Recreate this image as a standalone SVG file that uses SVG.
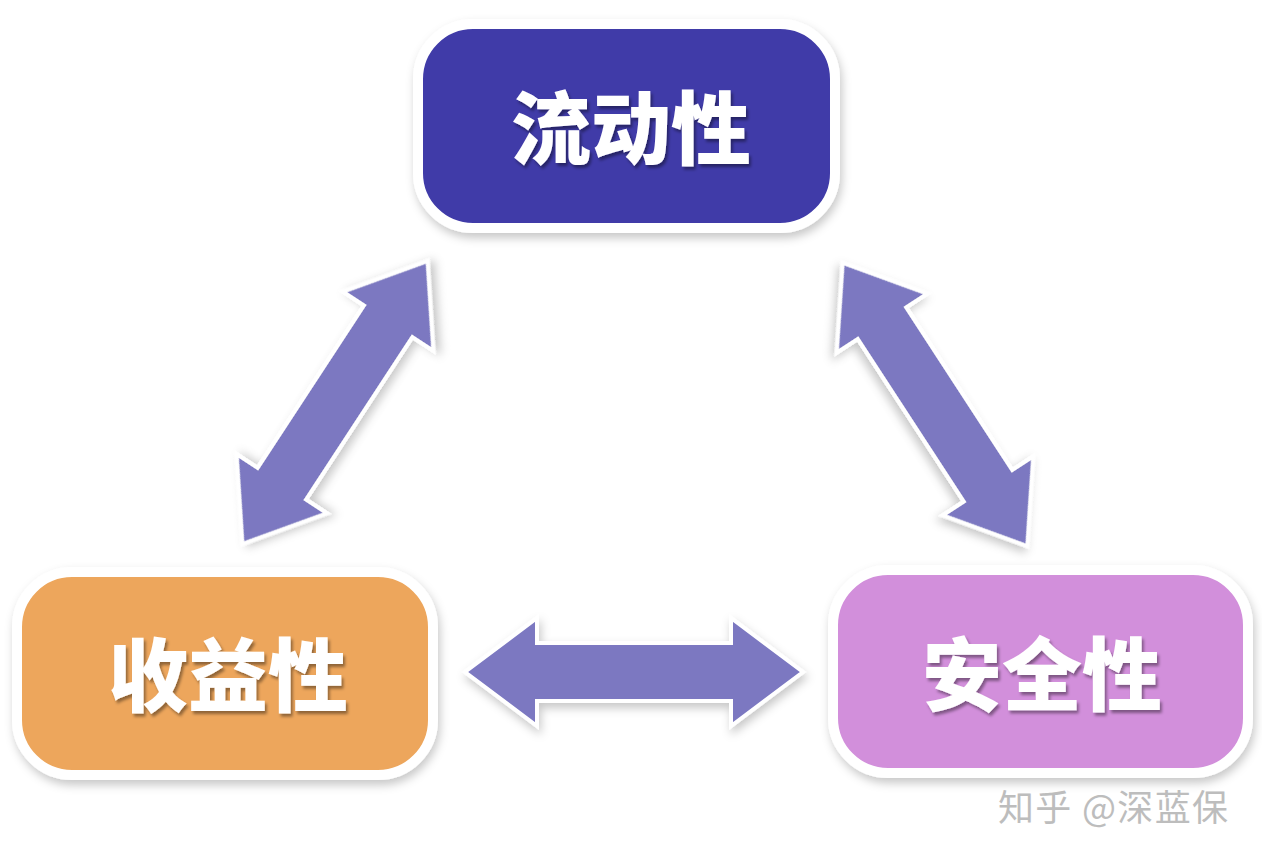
<svg xmlns="http://www.w3.org/2000/svg" width="1262" height="862" viewBox="0 0 1262 862">
  <defs>
    <filter id="sh" x="-20%" y="-20%" width="140%" height="150%">
      <feDropShadow dx="2" dy="5" stdDeviation="5" flood-color="#000" flood-opacity="0.22"/>
    </filter>
    <filter id="tsh" x="-10%" y="-10%" width="120%" height="130%">
      <feDropShadow dx="2" dy="3" stdDeviation="1.5" flood-color="#000" flood-opacity="0.4"/>
    </filter>
    <path id="dbl" d="M -169 0 L -97 -54 L -97 -29 L 97 -29 L 97 -54 L 169 0 L 97 54 L 97 29 L -97 29 L -97 54 Z"/>
  </defs>
  <style>
    .box { stroke: #ffffff; stroke-width: 10; filter: url(#sh); }
    .lbl { font-family: "Noto Sans CJK SC", "Noto Sans CJK JP", sans-serif; font-weight: 900; font-size: 80px; fill: #ffffff; text-anchor: middle; dominant-baseline: central; filter: url(#tsh); }
    .arrow { fill: #7B78C1; stroke: #ffffff; stroke-width: 4; stroke-linejoin: miter; filter: url(#sh); }
    .wm { font-family: "Noto Sans CJK SC", sans-serif; font-size: 36px; fill: #bdbdbd; }
  </style>
  <rect width="1262" height="862" fill="#ffffff"/>

  <g id="connectors">
    <use href="#dbl" class="arrow" transform="translate(335 402.5) rotate(-56.8)"/>
    <use href="#dbl" class="arrow" transform="translate(935 404.5) rotate(56.9)"/>
    <use href="#dbl" class="arrow" transform="translate(634 672)"/>
  </g>

  <g id="node-liquidity">
    <rect class="box" x="418" y="24" width="417" height="204" rx="55" fill="#3F3AA8"/>
    <text class="lbl" x="631" y="123">流动性</text>
  </g>

  <g id="node-return">
    <rect class="box" x="17" y="572" width="416" height="203" rx="55" fill="#EDA65B"/>
    <text class="lbl" x="228" y="670">收益性</text>
  </g>

  <g id="node-safety">
    <rect class="box" x="833" y="570" width="415" height="203" rx="55" fill="#D28FDB"/>
    <text class="lbl" x="1042" y="669">安全性</text>
  </g>

  <text class="wm" x="998" y="821" textLength="230" lengthAdjust="spacing">知乎 @深蓝保</text>
</svg>
